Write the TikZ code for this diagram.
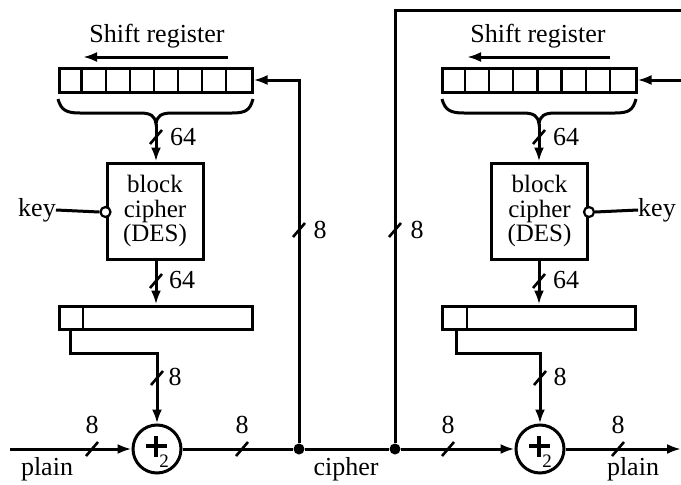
\documentclass[tikz,border=0pt]{standalone}
\usepackage{fontspec}
\setmainfont{Liberation Serif}
\usetikzlibrary{arrows.meta,calc}
\begin{document}
\begin{tikzpicture}[x=1pt,y=-1pt,
  wire/.style={line width=3pt},
  arr/.style={wire,-{Latex[length=14pt,width=10pt]}},
  lbl/.style={font=\fontsize{26}{26}\selectfont,inner sep=0pt},
  regbox/.style={draw,line width=3pt,minimum height=24pt,inner sep=0pt},
  desbox/.style={draw,line width=3pt,minimum width=96pt,minimum height=96pt,align=center,
     font=\fontsize{25}{24.5}\selectfont,inner sep=0pt},
  xorc/.style={draw,circle,line width=3pt,minimum size=48pt,inner sep=0pt},
  keyc/.style={draw,circle,fill=white,line width=2.2pt,minimum size=10pt,inner sep=0pt},
  dot/.style={circle,fill=black,minimum size=11pt,inner sep=0pt},
]
\useasboundingbox (0,0) rectangle (681,485);
\newcommand{\bitslash}[1]{\draw[line width=2.6pt] ($(#1)+(-6,7)$) -- ($(#1)+(6,-7)$);}
\newcommand{\cells}[2]{\foreach \k in {1,...,7}{\draw[line width=2.4pt] ($(#1.north west)+(\k*#2,0)$) -- ($(#1.south west)+(\k*#2,0)$);}}
\newcommand{\xorsign}[1]{\draw[line width=3.4pt] ($(#1)+(-11,-3)$) -- ($(#1)+(10,-3)$);
  \draw[line width=3.4pt] ($(#1)+(-1,-13)$) -- ($(#1)+(-1,8)$);
  \node[font=\fontsize{19}{19}\selectfont,inner sep=0pt] at ($(#1)+(7,12)$) {2};}

% ---------- left half ----------
\node[lbl] (sr1) at (157,36) {Shift register};
\coordinate (sa1s) at (228,57); \coordinate (sa1e) at (83,57);
\draw[arr] (sa1s) -- (sa1e);
\node[regbox,minimum width=193pt] (reg1) at (155.5,80) {};
\cells{reg1}{24.1}
\coordinate (bt1) at (156,124);
\draw[wire] (58,99) .. controls (61,110) and (66,113) .. (80,113) -- (140,113)
   .. controls (151,113) and (155,116) .. (bt1)
   .. controls (157,116) and (161,113) .. (172,113) -- (232,113)
   .. controls (246,113) and (250,110) .. (253,99);
\node[desbox] (des1) at (155,211) {block\\cipher\\(DES)};
\draw[arr] (bt1) -- (bt1 |- des1.north);
\coordinate (s64a) at (156,137); \bitslash{s64a}
\node[lbl] (l64a) at (183,137) {64};
\node[regbox,minimum width=193pt,minimum height=23pt] (out1) at (155.5,317.5) {};
\draw[line width=2.4pt] (83,306) -- (83,329);
\draw[arr] (bt1 |- des1.south) -- (bt1 |- out1.north);
\coordinate (s64b) at (156,281); \bitslash{s64b}
\node[lbl] (l64b) at (182,280) {64};
\node[keyc] (kc1) at (des1.west |- 0,212) {};
\node[lbl] (key1) at (37,210) {key};
\draw[wire] (key1.east) -- (kc1.west);
\node[xorc] (x1) at (157,449) {};
\xorsign{x1}
\coordinate (o1) at (70,329); \coordinate (o1b) at (70,353);
\draw[arr] (o1) -- (o1b) -| (x1.north);
\coordinate (s8c) at (157,378); \bitslash{s8c}
\node[lbl] (l8c) at (175,377) {8};
\coordinate (in1) at (10,449);
\draw[arr] (in1) -- (x1.west);
\coordinate (s8a) at (92,449); \bitslash{s8a}
\node[lbl] (l8a) at (92,425) {8};
\node[lbl] (plain1) at (47,469) {plain};

% ---------- middle ----------
\node[dot] (j1) at (299,449) {};
\node[dot] (j2) at (395,449) {};
\node[xorc] (x2) at (540,449) {};
\xorsign{x2}
\draw[wire] (x1.east) -- (j1) -- (j2);
\draw[arr] (j2) -- (x2.west);
\coordinate (s8b) at (242,449); \bitslash{s8b}
\node[lbl] (l8b) at (242,425) {8};
\node[lbl] (cipher) at (346,469) {cipher};
\node[regbox,minimum width=194pt] (reg2) at (539,80) {};
\cells{reg2}{24.2}
\draw[arr] (j1) |- (reg1.east);
\coordinate (s8v1) at (299,230); \bitslash{s8v1}
\node[lbl] (l8v1) at (320,230) {8};
\coordinate (tr) at (681,10);
\draw[wire] (j2) |- (tr);
\coordinate (s8v2) at (395,230); \bitslash{s8v2}
\node[lbl] (l8v2) at (417,230) {8};
\coordinate (fb2) at (681,80);
\draw[arr] (fb2) -- (reg2.east);

% ---------- right half ----------
\node[lbl] (sr2) at (538,36) {Shift register};
\coordinate (sa2s) at (610,57); \coordinate (sa2e) at (467,57);
\draw[arr] (sa2s) -- (sa2e);
\coordinate (bt2) at (539,124);
\draw[wire] (442,99) .. controls (445,110) and (450,113) .. (464,113) -- (523,113)
   .. controls (534,113) and (538,116) .. (bt2)
   .. controls (540,116) and (544,113) .. (555,113) -- (615,113)
   .. controls (629,113) and (633,110) .. (636,99);
\node[desbox] (des2) at (539.5,211) {block\\cipher\\(DES)};
\draw[arr] (bt2) -- (bt2 |- des2.north);
\coordinate (s64c) at (539,137); \bitslash{s64c}
\node[lbl] (l64c) at (566,137) {64};
\node[regbox,minimum width=193pt,minimum height=23pt] (out2) at (538.5,317.5) {};
\draw[line width=2.4pt] (467,306) -- (467,329);
\draw[arr] (bt2 |- des2.south) -- (bt2 |- out2.north);
\coordinate (s64d) at (539,281); \bitslash{s64d}
\node[lbl] (l64d) at (566,280) {64};
\node[keyc] (kc2) at (des2.east |- 0,212) {};
\node[lbl] (key2) at (657,210) {key};
\draw[wire] (kc2.east) -- (key2.west);
\coordinate (o2) at (456,329); \coordinate (o2b) at (456,353);
\draw[arr] (o2) -- (o2b) -| (x2.north);
\coordinate (s8d) at (540,378); \bitslash{s8d}
\node[lbl] (l8d) at (560,377) {8};
\coordinate (s8e) at (448,449); \bitslash{s8e}
\node[lbl] (l8e) at (448,425) {8};
\coordinate (outp) at (681,449);
\draw[arr] (x2.east) -- (outp);
\coordinate (s8f) at (618,449); \bitslash{s8f}
\node[lbl] (l8f) at (618,425) {8};
\node[lbl] (plain2) at (633,469) {plain};
\end{tikzpicture}
\end{document}
